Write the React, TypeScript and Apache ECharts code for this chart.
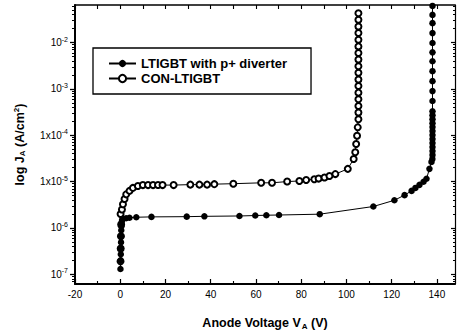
import React, { useEffect, useRef } from 'react';
import * as echarts from 'echarts';

// LTIGBT with p+ diverter (filled circles): anode voltage (V) and current density (A/cm^2)
const DIVERTER_V = [
  0.1, 0.2, 0.25, 0.3, 0.35, 0.4, 0.45, 0.5, 0.6, 0.8, 1.2, 2.6, 4.1, 7.1, 13.8,
  29.4, 37.2, 52.7, 59.7, 64.6, 70.2, 88.2, 111.9, 121.2, 125.7, 128.8, 130.5,
  132.3, 134.1, 135.4, 136.7, 137.6, 138.0, 138.05, 138.05, 138.05, 138.05, 138.05,
  138.05, 138.05, 138.05, 138.05, 138.05, 138.05, 138.05, 138.05, 138.05, 138.05,
  138.05, 138.05, 138.05, 138.05, 138.05, 138.05, 138.05, 138.05,
];
const DIVERTER_J = [
  1.3e-7, 2.0e-7, 2.7e-7, 3.6e-7, 4.9e-7, 6.6e-7, 8.9e-7, 1.08e-6, 1.3e-6, 1.48e-6,
  1.58e-6, 1.62e-6, 1.66e-6, 1.7e-6, 1.73e-6, 1.75e-6, 1.78e-6, 1.81e-6, 1.85e-6,
  1.88e-6, 1.9e-6, 1.98e-6, 2.9e-6, 3.95e-6, 5.1e-6, 6.3e-6, 7.3e-6, 8.5e-6,
  9.9e-6, 1.15e-5, 1.88e-5, 2.66e-5, 3.08e-5, 3.76e-5, 4.58e-5, 5.58e-5, 6.79e-5,
  8.28e-5, 1.01e-4, 1.23e-4, 1.5e-4, 1.82e-4, 2.22e-4, 2.71e-4, 3.3e-4, 5.48e-4,
  8.97e-4, 1.47e-3, 2.41e-3, 3.94e-3, 6.15e-3, 9.78e-3, 1.6e-2, 2.62e-2, 3.95e-2,
  6.17e-2,
];

// CON-LTIGBT (open circles)
const CON_V = [
  0.13, 0.2, 0.3, 0.4, 0.15, 0.75, 1.2, 1.9, 2.65, 4.1, 5.6, 7.8, 10, 12.3, 14.5,
  16.7, 18.7, 23.6, 31, 35, 38.4, 41.6, 50, 62.3, 67.1, 73.8, 79.2, 82.2, 85.8, 87.7,
  90.3, 92.5, 95.1, 100.6, 103.2, 103.9, 104.3, 104.7, 105, 105.3, 105.3, 105.3,
  105.3, 105.3, 105.3, 105.3, 105.3, 105.3, 105.3, 105.3, 105.3, 105.3, 105.3, 105.3,
  105.3, 105.3,
];
const CON_J = [
  1.9e-7, 3.6e-7, 6.6e-7, 1.19e-6, 2.0e-6, 2.5e-6, 3.25e-6, 4.2e-6, 5.3e-6, 6.3e-6,
  7.3e-6, 8.0e-6, 8.4e-6, 8.4e-6, 8.4e-6, 8.45e-6, 8.4e-6, 8.4e-6, 8.6e-6,
  8.6e-6, 8.6e-6, 8.8e-6, 9.0e-6, 9.4e-6, 9.4e-6, 1.0e-5, 1.03e-5, 1.08e-5,
  1.12e-5, 1.16e-5, 1.22e-5, 1.32e-5, 1.45e-5, 1.88e-5, 3.08e-5, 4.29e-5, 6.47e-5,
  9.75e-5, 1.48e-4, 2.22e-4, 3.09e-4, 4.28e-4, 5.96e-4, 8.3e-4, 1.15e-3, 1.6e-3,
  2.22e-3, 3.08e-3, 4.29e-3, 5.97e-3, 8.26e-3, 1.15e-2, 1.6e-2, 2.22e-2, 3.09e-2,
  4.3e-2, 5.96e-2,
];

const SERIES_NAMES = ['LTIGBT with p+ diverter', 'CON-LTIGBT'];
const X_LABELS = [-20, 0, 20, 40, 60, 80, 100, 120, 140];
const X_MINOR = [-10, 10, 30, 50, 70, 90, 110, 130];
const X_TOP_TICKS = [-20, -10, 0, 10, 20, 30, 40, 50, 60, 70, 80, 90, 100, 110, 120, 130, 140];
const Y_DECADES = [-7, -6, -5, -4, -3, -2];
const X_MIN = -20;
const X_MAX = 148;
const Y_MIN = -7.21;
const Y_MAX = -1.19;

const FONT = 'Liberation Sans, Arial, Helvetica, sans-serif';

function minorLogs(): number[] {
  const out: number[] = [];
  for (let n = -8; n <= -1; n++) {
    for (let k = 2; k <= 9; k++) {
      const v = n + Math.log10(k);
      if (v > Y_MIN && v < Y_MAX) out.push(v);
    }
  }
  return out;
}

export default function App() {
  const ref = useRef<HTMLDivElement>(null);
  useEffect(() => {
    if (!ref.current) return;
    const chart = echarts.init(ref.current, undefined, { renderer: 'svg' });
    const minors = minorLogs();
    const toPairs = (vs: number[], js: number[]) => vs.map((v, i) => [v, Math.log10(js[i])]);
    const baseY = {
      type: 'value' as const,
      min: Y_MIN,
      max: Y_MAX,
      splitLine: { show: false },
      axisLabel: { show: false },
    };
    const baseX = {
      type: 'value' as const,
      min: X_MIN,
      max: X_MAX,
      splitLine: { show: false },
      axisLabel: { show: false },
    };
    chart.setOption({
      animation: false,
      backgroundColor: '#fff',
      grid: { left: 75, right: 2, top: 5, bottom: 49 },
      legend: {
        data: SERIES_NAMES,
        orient: 'vertical',
        left: 93,
        top: 48,
        itemWidth: 27,
        itemHeight: 9,
        itemGap: 2,
        padding: [9, 24, 9, 15],
        borderColor: '#000',
        borderWidth: 1.3,
        backgroundColor: '#fff',
        textStyle: { fontFamily: FONT, fontWeight: 'bold', fontSize: 13, color: '#000' },
      },
      xAxis: [
        {
          ...baseX,
          position: 'bottom',
          interval: 20,
          axisLine: { onZero: false, lineStyle: { color: '#000', width: 2 } },
          axisTick: { inside: true, length: 5, customValues: X_LABELS, lineStyle: { color: '#000', width: 1.2 } },
          axisLabel: {
            show: true,
            customValues: X_LABELS,
            margin: 5,
            color: '#000',
            fontFamily: FONT,
            fontSize: 10,
          },
          name: '{b|Anode Voltage V}{sub|A}{b| (V)}',
          nameLocation: 'middle',
          nameGap: 32,
          nameTextStyle: {
            rich: {
              b: { fontFamily: FONT, fontWeight: 'bold', fontSize: 12.5, color: '#000' },
              sub: { fontFamily: FONT, fontWeight: 'bold', fontSize: 8, color: '#000', padding: [6, 0, 0, 1] },
            },
          },
        },
        {
          ...baseX,
          position: 'bottom',
          axisLine: { show: false, onZero: false },
          axisTick: { inside: true, length: 3, customValues: X_MINOR, lineStyle: { color: '#000', width: 1.1 } },
        },
        {
          ...baseX,
          position: 'top',
          axisLine: { onZero: false, lineStyle: { color: '#000', width: 1.5 } },
          axisTick: { inside: true, length: 4, customValues: X_TOP_TICKS, lineStyle: { color: '#000', width: 1.1 } },
        },
      ],
      yAxis: [
        {
          ...baseY,
          position: 'left',
          axisLine: { onZero: false, lineStyle: { color: '#000', width: 2 } },
          axisTick: { inside: false, length: 5, customValues: Y_DECADES, lineStyle: { color: '#000', width: 1.3 } },
          axisLabel: {
            show: true,
            customValues: Y_DECADES,
            margin: 7,
            formatter: (v: number) => {
              const e = Math.round(v);
              const pre = e === -4 || e === -5 ? '1x10' : '10';
              return `{n|${pre}}{s|${e}}`;
            },
            rich: {
              n: { fontFamily: FONT, fontSize: 10, color: '#000' },
              s: { fontFamily: FONT, fontSize: 7, color: '#000', padding: [0, 0, 7, 0] },
            },
          },
          name: '{b|log J}{sub|A}{b| (A/cm}{sup|2}{b|)}',
          nameLocation: 'middle',
          nameGap: 48,
          nameTextStyle: {
            rich: {
              b: { fontFamily: FONT, fontWeight: 'bold', fontSize: 12.5, color: '#000' },
              sub: { fontFamily: FONT, fontWeight: 'bold', fontSize: 8, color: '#000', padding: [6, 0, 0, 0] },
              sup: { fontFamily: FONT, fontWeight: 'bold', fontSize: 8, color: '#000', padding: [0, 0, 7, 0] },
            },
          },
        },
        {
          ...baseY,
          position: 'left',
          axisLine: { show: false, onZero: false },
          axisTick: { inside: false, length: 3, customValues: minors, lineStyle: { color: '#000', width: 1 } },
        },
        {
          ...baseY,
          position: 'right',
          axisLine: { onZero: false, lineStyle: { color: '#000', width: 1.2 } },
          axisTick: { inside: true, length: 4, customValues: Y_DECADES, lineStyle: { color: '#000', width: 1.2 } },
        },
        {
          ...baseY,
          position: 'right',
          axisLine: { show: false, onZero: false },
          axisTick: { inside: true, length: 2, customValues: minors, lineStyle: { color: '#000', width: 1 } },
        },
      ],
      series: [
        {
          name: SERIES_NAMES[1],
          type: 'line',
          data: toPairs(CON_V, CON_J),
          xAxisIndex: 0,
          yAxisIndex: 0,
          symbol: 'emptyCircle',
          symbolSize: 6,
          showAllSymbol: true,
          lineStyle: { color: '#000', width: 1 },
          itemStyle: { color: '#000', borderColor: '#000', borderWidth: 0.9 },
          z: 2,
        },
        {
          name: SERIES_NAMES[0],
          type: 'line',
          data: toPairs(DIVERTER_V, DIVERTER_J),
          xAxisIndex: 0,
          yAxisIndex: 0,
          symbol: 'circle',
          symbolSize: 6.5,
          showAllSymbol: true,
          lineStyle: { color: '#000', width: 1 },
          itemStyle: { color: '#000' },
          z: 3,
        },
      ],
    });
    return () => chart.dispose();
  }, []);
  return (
    <div
      ref={ref}
      style={{ position: 'fixed', left: 0, top: 0, width: 457, height: 335, background: '#fff' }}
    />
  );
}
